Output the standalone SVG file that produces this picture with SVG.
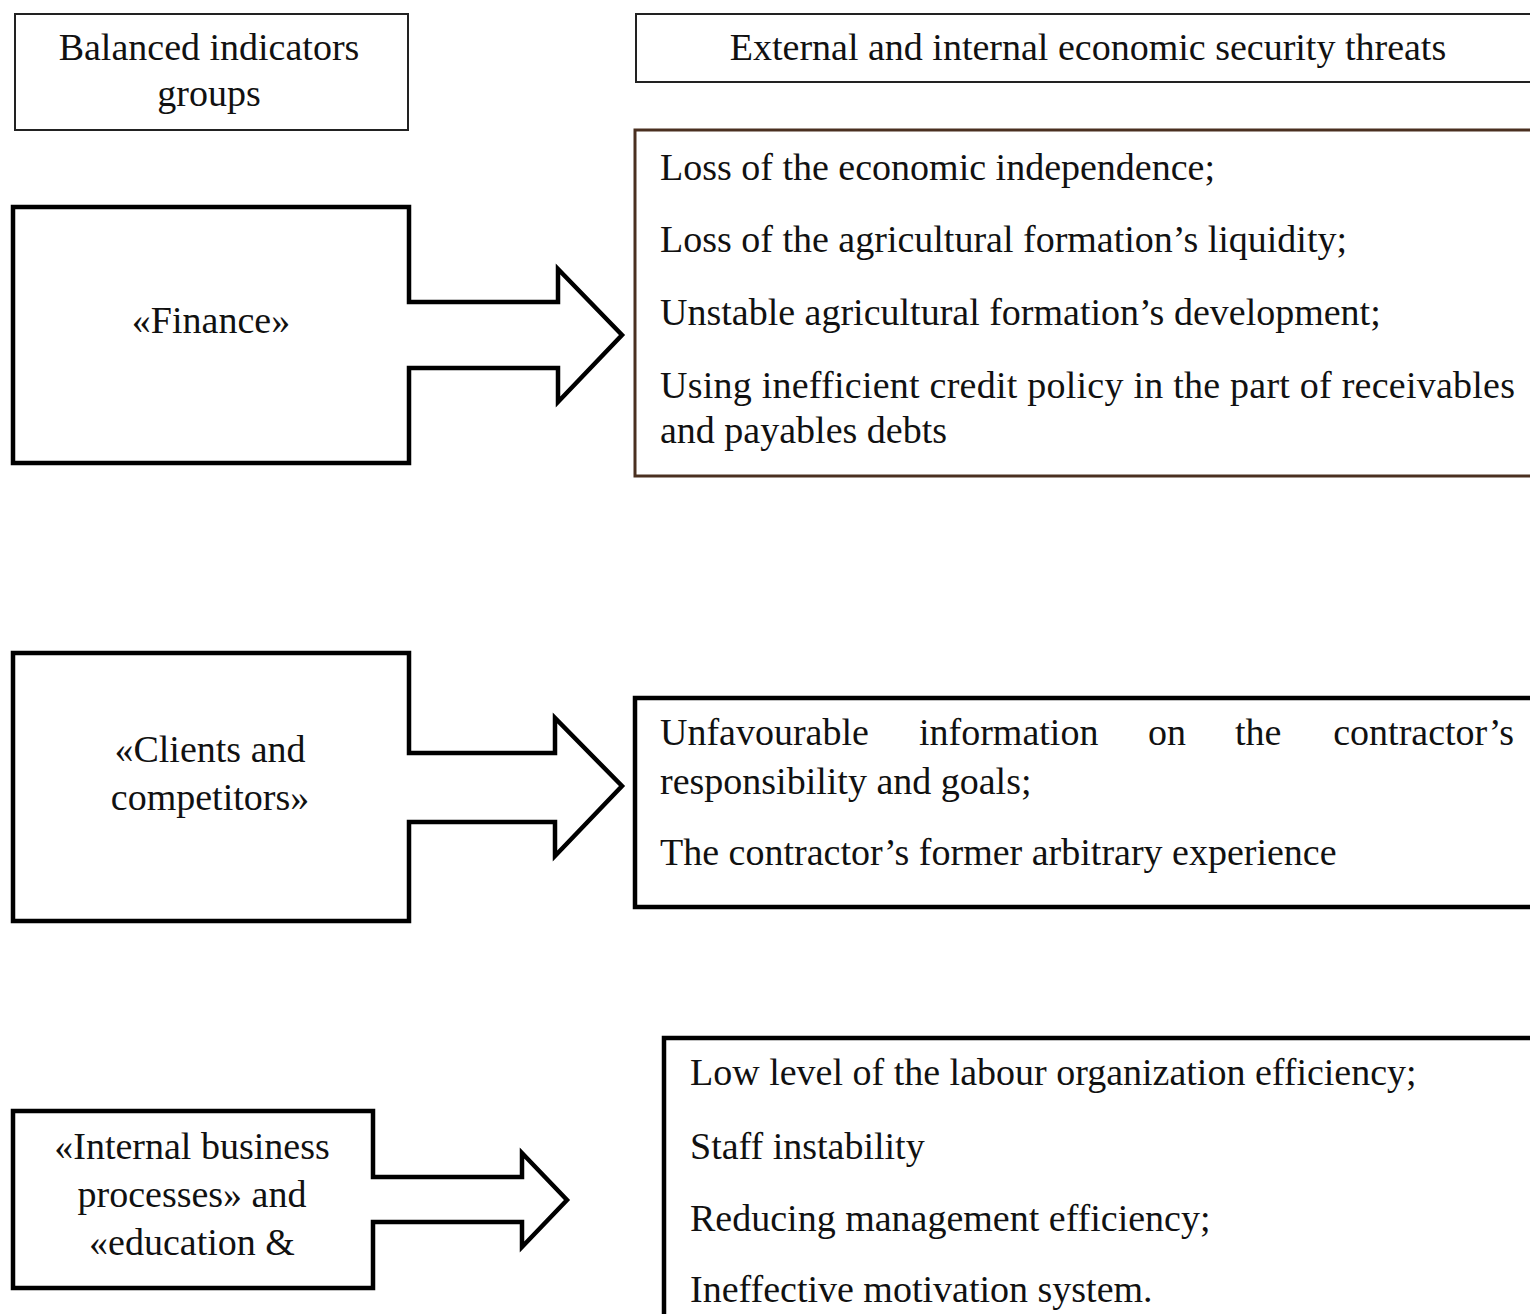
<svg xmlns="http://www.w3.org/2000/svg" width="1530" height="1314" viewBox="0 0 1530 1314">
<style>
  text { font-family: "Liberation Serif", "Times New Roman", serif; font-size: 38px; fill: #111; }
  .c { text-anchor: middle; }
  .thin { fill: #fff; stroke: #222; stroke-width: 2; }
  .thick { fill: #fff; stroke: #000; stroke-width: 4.5; stroke-linejoin: miter; }
  .brown { fill: #fff; stroke: #4a3020; stroke-width: 3; }
</style>
<rect width="1530" height="1314" fill="#fff"/>

<g id="header-left">
  <rect class="thin" x="15" y="14" width="393" height="116"/>
  <text class="c" x="209" y="60">Balanced indicators</text>
  <text class="c" x="209" y="106">groups</text>
</g>

<g id="header-right">
  <rect class="thin" x="636" y="14" width="910" height="68"/>
  <text class="c" x="1088" y="60">External and internal economic security threats</text>
</g>

<g id="connectors">
  <path class="thick" d="M13,207 H409 V302 H558 V269 L622,335 L558,402 V368 H409 V463 H13 Z"/>
  <path class="thick" d="M13,653 H409 V753 H555 V718 L622,786 L555,856 V822 H409 V921 H13 Z"/>
  <path class="thick" d="M13,1111 H373 V1177 H522 V1153 L567,1200 L522,1247 V1222 H373 V1288 H13 Z"/>
</g>

<g id="finance">
  <text class="c" x="211" y="333">«Finance»</text>
</g>

<g id="finance-threats">
  <rect class="brown" x="635" y="130" width="910" height="346"/>
  <text x="660" y="180">Loss of the economic independence;</text>
  <text x="660" y="252">Loss of the agricultural formation’s liquidity;</text>
  <text x="660" y="325">Unstable agricultural formation’s development;</text>
  <text x="660" y="398" textLength="855">Using inefficient credit policy in the part of receivables</text>
  <text x="660" y="443">and payables debts</text>
</g>

<g id="clients">
  <text class="c" x="210" y="762">«Clients and</text>
  <text class="c" x="210" y="810">competitors»</text>
</g>

<g id="clients-threats">
  <rect class="thick" x="635" y="698" width="910" height="209"/>
  <text x="660" y="745">Unfavourable</text>
  <text x="919" y="745">information</text>
  <text x="1148" y="745">on</text>
  <text x="1235" y="745">the</text>
  <text x="1514" y="745" text-anchor="end">contractor’s</text>
  <text x="660" y="794">responsibility and goals;</text>
  <text x="660" y="865">The contractor’s former arbitrary experience</text>
</g>

<g id="internal">
  <text class="c" x="192" y="1159">«Internal business</text>
  <text class="c" x="192" y="1207">processes» and</text>
  <text class="c" x="192" y="1255">«education &amp;</text>
</g>

<g id="internal-threats">
  <rect class="thick" x="664" y="1038" width="880" height="300"/>
  <text x="690" y="1085">Low level of the labour organization efficiency;</text>
  <text x="690" y="1159">Staff instability</text>
  <text x="690" y="1231">Reducing management efficiency;</text>
  <text x="690" y="1302">Ineffective motivation system.</text>
</g>
</svg>
